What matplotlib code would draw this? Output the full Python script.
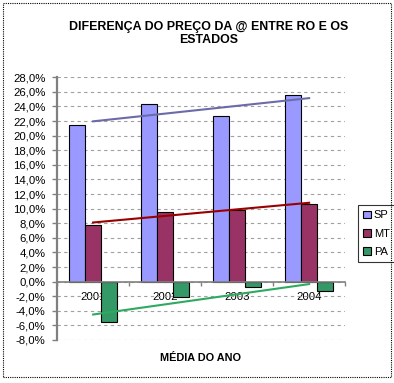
import numpy as np
from matplotlib import pyplot as plt
from matplotlib.patches import Rectangle

plt.rcParams['font.family'] = ['Liberation Sans', 'DejaVu Sans']

# dados
anos = ['2001', '2002', '2003', '2004']
sp = [21.5, 24.4, 22.7, 25.6]
mt = [7.8, 9.5, 9.8, 10.7]
pa = [-5.5, -2.1, -0.8, -1.3]
y_ticks = [-8, -6, -4, -2, 0, 2, 4, 6, 8, 10, 12, 14, 16, 18, 20, 22, 24, 26, 28]

series = [('SP', sp, '#9999FF', '#6B6BA8'),
          ('MT', mt, '#993366', '#990000'),
          ('PA', pa, '#339966', '#2EAA60')]

fig = plt.figure(figsize=(3.94, 3.83), dpi=100)
ax = fig.add_axes([0.145, 0.1123, 0.731, 0.686])

x = np.arange(1, len(anos) + 1)
w = 0.225
for i, (nome, vals, cor, cor_tend) in enumerate(series):
	ax.bar(x + (i - 1) * w, vals, width=w, color=cor, edgecolor='black',
		linewidth=0.8, label=nome, zorder=3)
for i, (nome, vals, cor, cor_tend) in enumerate(series):
	a, b = np.polyfit(x, vals, 1)		# linha de tendencia linear
	ax.plot([x[0], x[-1]], [a * x[0] + b, a * x[-1] + b], color=cor_tend,
		linewidth=1.5, zorder=4)

ax.set_xlim(0.5, len(anos) + 0.5)
ax.set_ylim(-8, 28)
ax.set_yticks(y_ticks)
ax.set_yticklabels([('%.1f%%' % v).replace('.', ',') for v in y_ticks], fontsize=8.2)
ax.yaxis.grid(True, color='#A0A0A0', linestyle=(0, (3, 3)), linewidth=0.8, zorder=0)

ax.spines['top'].set_visible(False)
ax.spines['right'].set_visible(False)
ax.spines['left'].set_color('#808080')
ax.spines['left'].set_linewidth(1.6)
ax.spines['bottom'].set_position(('data', 0))
ax.spines['bottom'].set_color('#808080')
ax.spines['bottom'].set_linewidth(1.2)
ax.spines['bottom'].set_zorder(5)
ax.tick_params(axis='y', colors='#808080', length=3.6, width=1, labelcolor='black', pad=4.8)

ax.set_xticks(x)
ax.set_xticklabels(anos, fontsize=8.2)
ax.set_xticks(np.arange(0.5, len(anos) + 1, 1), minor=True)
ax.tick_params(axis='x', which='major', length=0, pad=7.5)
ax.tick_params(axis='x', which='minor', length=3, color='#808080', width=1)

fig.text(0.53, 0.9295, 'DIFERENÇA DO PREÇO DA @ ENTRE RO E OS', ha='center',
	va='center', fontsize=8.9, fontweight='bold')
fig.text(0.53, 0.8948, 'ESTADOS', ha='center', va='center', fontsize=8.9,
	fontweight='bold')
fig.text(0.508, 0.066, 'MÉDIA DO ANO', ha='center', va='center', fontsize=7.8,
	fontweight='bold')

leg = ax.legend(loc='center left', bbox_to_anchor=(0.908, 0.39),
	bbox_transform=fig.transFigure, fontsize=8, frameon=True, fancybox=False,
	edgecolor='black', handlelength=0.7, handleheight=0.7, handletextpad=0.3,
	borderpad=0.45, labelspacing=0.75, borderaxespad=0)
leg.get_frame().set_linewidth(0.8)

fig.patches.append(Rectangle((0.008, 0.016), 0.984, 0.975, transform=fig.transFigure,
	fill=False, edgecolor='black', linewidth=0.8, linestyle=(0, (1, 1))))

fig.savefig('out.png', dpi=100)
